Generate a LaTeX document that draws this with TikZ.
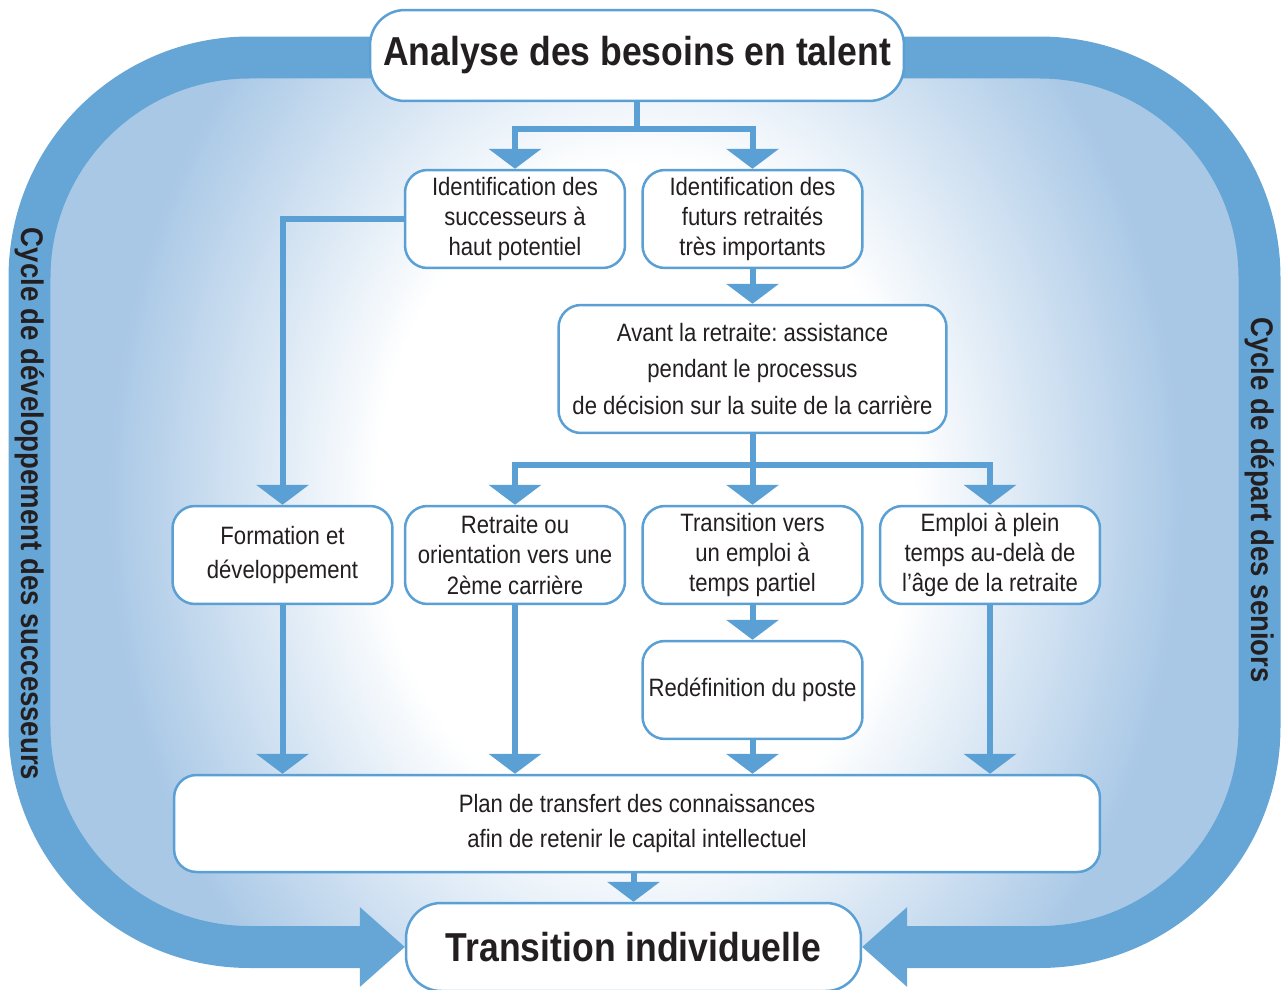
\documentclass[tikz,border=0pt]{standalone}
\usepackage{fontspec}
\setmainfont{Liberation Sans}[FakeStretch=0.88]
\usetikzlibrary{arrows.meta,calc,positioning}
\definecolor{bandblue}{RGB}{102,166,214}
\definecolor{bandlight}{RGB}{169,200,230}
\definecolor{lineblue}{RGB}{91,160,213}
\definecolor{inkdark}{RGB}{35,31,32}
\pgfdeclareradialshading{glow}{\pgfpoint{0bp}{0bp}}{color(0bp)=(white); color(12bp)=(white); color(24bp)=(bandlight); color(50bp)=(bandlight)}

\begin{document}
\frenchspacing
\begin{tikzpicture}[x=0.02cm,y=-0.02cm,
  box/.style={draw=lineblue,line width=0.05cm,fill=white,rounded corners=0.45cm,
    minimum width=4.4cm,minimum height=1.96cm,inner sep=0pt,align=center,
    text=inkdark,font=\fontsize{14.3}{17.2}\selectfont},
  bigbox/.style={box,rounded corners=0.7cm,minimum height=1.82cm,
    font=\bfseries\fontsize{23}{27}\selectfont},
  conn/.style={draw=lineblue,line width=0.12cm,
    -{Triangle[width=1.04cm,length=0.4cm]}},
  cyclelabel/.style={rotate=-90,text=inkdark,font=\bfseries\fontsize{17.8}{20}\selectfont}]
\useasboundingbox (0,0) rectangle (1281,990);

% light background with white glow
\begin{scope}
\clip[rounded corners=4.4cm] (29.5,57.5) rectangle (1259.5,947);
\fill[bandlight] (0,0) rectangle (1281,990);
\shade[shading=glow] (645,500) ellipse [x radius=11.2cm, y radius=14cm];
\end{scope}

% the two cycles
\draw[bandblue,line width=0.84cm,rounded corners=4.4cm] (362,947) -- (29.5,947) -- (29.5,57.5) -- (1259.5,57.5) -- (1259.5,947) -- (904,947);

\node[bigbox,minimum width=10.68cm] (analyse) at (637,55.5) {Analyse des besoins en talent};
\node[box] (succ) at (515,219) {Identification des\\successeurs à\\haut potentiel};
\node[box] (futurs) at (752.5,219) {Identification des\\futurs retraités\\très importants};
\node[box,minimum width=7.76cm,minimum height=2.56cm,font=\fontsize{14.3}{20.5}\selectfont] (avant) at (752.5,369) {Avant la retraite: assistance\\pendant le processus\\de décision sur la suite de la carrière};
\node[box,font=\fontsize{14.3}{19.4}\selectfont] (form) at (282.5,555) {Formation et\\développement};
\node[box] (retr) at (515,555) {Retraite ou\\orientation vers une\\2ème carrière};
\node[box] (partiel) at (752.5,555) {Transition vers\\un emploi à\\temps partiel};
\node[box] (plein) at (990,555) {Emploi à plein\\temps au-delà de\\l’âge de la retraite};
\node[box] (redef) at (752.5,690) {Redéfinition du poste};
\node[box,minimum width=18.52cm,minimum height=1.94cm,font=\fontsize{14.3}{20}\selectfont] (plan) at (637,823.5) {Plan de transfert des connaissances\\afin de retenir le capital intellectuel};
\node[bigbox,minimum width=9.1cm,minimum height=1.76cm] (indiv) at (633.5,947) {Transition individuelle};

\fill[bandblue] (indiv.west) -- ++(-45,-40) -- ++(0,80) -- cycle;
\fill[bandblue] (indiv.east) -- ++(45,-40) -- ++(0,80) -- cycle;

\draw[conn] (analyse.south) -- ++(0,27) -| (succ.north);
\draw[conn] (analyse.south) -- ++(0,27) -| (futurs.north);
\draw[conn] (succ.west) -| (form.north);
\draw[conn] (futurs.south) -- (futurs.south |- avant.north);
\draw[conn] (avant.south) -- ++(0,31) -| (retr.north);
\draw[conn] (avant.south) -- ++(0,31) -| (partiel.north);
\draw[conn] (avant.south) -- ++(0,31) -| (plein.north);
\draw[conn] (partiel.south) -- (redef.north);
\draw[conn] (form.south) -- (form.south |- plan.north);
\draw[conn] (retr.south) -- (retr.south |- plan.north);
\draw[conn] (redef.south) -- (redef.south |- plan.north);
\draw[conn] (plein.south) -- (plein.south |- plan.north);
\draw[conn] (indiv.north |- plan.south) -- (indiv.north);

\node[cyclelabel] (devlabel) at (29.5,504) {Cycle de développement des successeurs};
\node[cyclelabel] (deplabel) at (1259.5,500) {Cycle de départ des seniors};
\end{tikzpicture}
\end{document}
